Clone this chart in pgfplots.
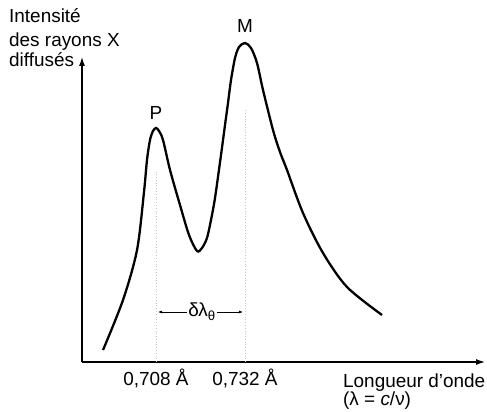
\documentclass[border=0pt]{standalone}
\usepackage{pgfplots}
\pgfplotsset{compat=1.18}
\usepackage{fontspec}
\setmainfont{Liberation Sans}
\usetikzlibrary{arrows.meta}

\pgfplotstableread{
x        y
0.69371  12
0.69910  62
0.70288  112
0.70476  170
0.70557  202
0.70638  222
0.70719  231
0.70800  234
0.70881  231
0.70989  222
0.71178  192
0.71447  157
0.71690  127
0.71906  111
0.72040  114
0.72175  124
0.72283  142
0.72391  164
0.72553  207
0.72661  237
0.72742  259
0.72823  282
0.72931  304
0.73039  315
0.73200  319
0.73362  314
0.73524  299
0.73686  272
0.73955  232
0.74144  210
0.74333  192
0.74764  149
0.75304  109
0.75951  75
0.76895  47
}\spectre

\newcommand{\lab}{\fontsize{19}{22}\selectfont}

\begin{document}
\begin{tikzpicture}
\useasboundingbox (-82bp,-50bp) rectangle (405bp,362bp);
\begin{axis}[
    at={(0,0)}, anchor=south west,
    scale only axis,
    width=403bp, height=305bp,
    xmin=0.68804, xmax=0.79673,
    ymin=0, ymax=305,
    axis lines=left,
    x axis line style={line width=1.2pt, -{Latex[length=9bp,width=6bp]}},
    y axis line style={line width=1.2pt, -{Latex[length=9bp,width=6bp]}},
    major tick length=0pt,
    ytick=\empty,
    xtick={0.708,0.732},
    xticklabels={{0,708 Å},{0,732 Å}},
    xticklabel style={font=\lab, yshift=-3bp},
    clip=false,
]
\addplot[black, line width=2.3pt, smooth, tension=0.5] table[x=x, y=y] {\spectre};

\draw[gray!45, dotted, line width=0.8pt] (axis cs:0.708,0) -- (axis cs:0.708,192);
\draw[gray!45, dotted, line width=0.8pt] (axis cs:0.732,0) -- (axis cs:0.732,252);

\node[font=\lab, inner sep=1bp] (dl) at (axis cs:0.72041,50) {δλ\textsubscript{θ}};
\draw[-{Latex[length=4bp,width=3bp]}, line width=0.6pt] (dl.west) -- (axis cs:0.70854,50);
\draw[-{Latex[length=4bp,width=3bp]}, line width=0.6pt] (dl.east) -- (axis cs:0.73146,50);

\node[font=\lab, anchor=base] at (axis cs:0.7080,242) {P};
\node[font=\lab, anchor=base] at (axis cs:0.7320,329) {M};

\node[font=\lab, anchor=base west, inner sep=0pt] at (axis cs:0.66835,339) {Intensité};
\node[font=\lab, anchor=base west, inner sep=0pt] at (axis cs:0.66835,315) {des rayons X};
\node[font=\lab, anchor=base west, inner sep=0pt] at (axis cs:0.66835,295) {diffusés};

\node[font=\lab, anchor=base west, inner sep=0pt] at (axis cs:0.75843,-25) {Longueur d'onde};
\node[font=\lab, anchor=base west, inner sep=0pt] at (axis cs:0.75843,-43) {(λ = \textit{c}/ν)};
\end{axis}
\end{tikzpicture}
\end{document}
